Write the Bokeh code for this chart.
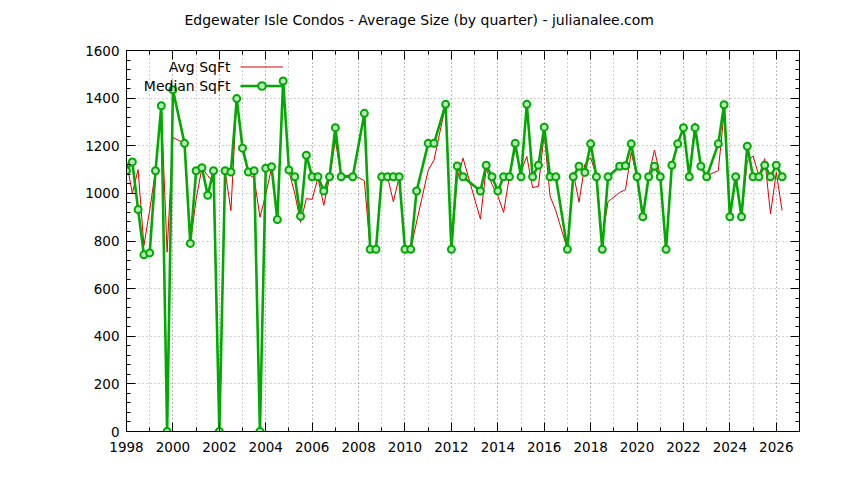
from bokeh.plotting import figure
from bokeh.models import (ColumnDataSource, Range1d, FixedTicker, LinearAxis, Label,
                          Legend, LegendItem, Grid, CustomLabelingPolicy)
from bokeh.embed import file_html
from bokeh.resources import INLINE

# ---- data (quarterly; quarters with no data are absent) ----
period = ["1998Q1","1998Q2","1998Q3","1998Q4","1999Q1","1999Q2","1999Q3","1999Q4",
          "2000Q1","2000Q3","2000Q4","2001Q1","2001Q2","2001Q3","2001Q4",
          "2002Q1","2002Q2","2002Q3","2002Q4","2003Q1","2003Q2","2003Q3","2003Q4",
          "2004Q1","2004Q2","2004Q3","2004Q4","2005Q1","2005Q2","2005Q3","2005Q4",
          "2006Q1","2006Q2","2006Q3","2006Q4","2007Q1","2007Q2","2007Q4",
          "2008Q2","2008Q3","2008Q4","2009Q1","2009Q2","2009Q3","2009Q4",
          "2010Q1","2010Q2","2010Q3","2011Q1","2011Q2","2011Q4",
          "2012Q1","2012Q2","2012Q3","2013Q2","2013Q3","2013Q4",
          "2014Q1","2014Q2","2014Q3","2014Q4","2015Q1","2015Q2","2015Q3","2015Q4",
          "2016Q1","2016Q2","2016Q3","2017Q1","2017Q2","2017Q3","2017Q4",
          "2018Q1","2018Q2","2018Q3","2018Q4","2019Q2","2019Q3","2019Q4",
          "2020Q1","2020Q2","2020Q3","2020Q4","2021Q1","2021Q2","2021Q3","2021Q4",
          "2022Q1","2022Q2","2022Q3","2022Q4","2023Q1","2023Q3","2023Q4",
          "2024Q1","2024Q2","2024Q3","2024Q4","2025Q1","2025Q2","2025Q3","2025Q4",
          "2026Q1","2026Q2"]

avg_sqft = [1135,1000,1100,780,930,1095,1360,753,
            1235,1210,790,975,1108,1075,1045,
            0,1095,928,1398,1190,1079,1066,900,
            995,1108,890,1465,1093,1000,878,978,
            975,1065,950,1065,1225,1070,1080,
            1053,765,765,1070,1070,965,1070,
            765,765,880,1097,1140,1370,
            765,1060,1148,892,1105,1037,
            990,920,1072,1187,1093,1155,1024,1030,
            1252,989,927,765,1088,963,1122,
            1150,1074,810,965,1004,1015,1172,
            1067,900,1074,1182,1074,765,1118,1210,
            1276,1070,1296,1114,1074,1095,1338,
            900,1070,900,1136,1157,1074,1146,914,
            1088,928]

median_sqft = [1095,1132,932,742,750,1095,1368,0,
               1435,1210,790,1095,1108,992,1095,
               0,1095,1090,1398,1190,1090,1095,0,
               1106,1112,890,1472,1098,1070,904,1160,
               1070,1070,1010,1070,1276,1070,1070,
               1336,765,765,1070,1070,1070,1070,
               765,765,1010,1210,1210,1374,
               765,1115,1070,1010,1118,1070,
               1010,1070,1070,1210,1070,1374,1070,1118,
               1278,1070,1070,765,1070,1114,1088,
               1208,1070,765,1070,1114,1116,1208,
               1070,902,1070,1114,1070,765,1118,1208,
               1276,1070,1276,1114,1070,1208,1372,
               902,1070,902,1198,1070,1070,1118,1070,
               1118,1070]

x_ticks = list(range(1998, 2027, 2))
x_minor = list(range(1998, 2028, 1))
y_ticks = list(range(0, 1601, 200))
y_minor = list(range(0, 1601, 40))

title_text = "Edgewater Isle Condos - Average Size (by quarter) - julianalee.com"
FONT = "DejaVu Sans"

xs = [int(p[:4]) + (int(p[5]) - 1) / 4 for p in period]
src = ColumnDataSource(dict(x=xs, avg=avg_sqft, med=median_sqft))

W, H = 836, 472
p = figure(width=W, height=H, output_backend="svg", toolbar_location=None,
           x_range=Range1d(1998, 2027), y_range=Range1d(0, 1600),
           min_border_left=126, min_border_right=35, min_border_top=48,
           min_border_bottom=41, x_axis_type=None, y_axis_type=None)
p.outline_line_color = "black"
p.outline_line_width = 1
p.background_fill_color = "white"
p.border_fill_color = "white"

p.title.text = title_text
p.title.align = "left"
p.title.offset = 58
p.title.text_font = FONT
p.title.text_font_size = "14px"
p.title.text_font_style = "normal"
p.title.text_color = "black"
p.title.standoff = 19

xt = FixedTicker(ticks=x_ticks, minor_ticks=x_minor)
yt = FixedTicker(ticks=y_ticks, minor_ticks=y_minor)

def style_axis(ax):
    ax.axis_line_color = "black"
    ax.major_tick_in = 9
    ax.major_tick_out = 0
    ax.minor_tick_in = 4
    ax.minor_tick_out = 0
    ax.major_tick_line_color = "black"
    ax.minor_tick_line_color = "black"
    ax.major_label_text_font = FONT
    ax.major_label_text_font_size = "13.5px"
    ax.major_label_text_color = "black"
    ax.major_label_standoff = 7

bx = LinearAxis(ticker=xt); style_axis(bx); p.add_layout(bx, "below")
bx.major_label_standoff = 10
ly = LinearAxis(ticker=yt); style_axis(ly); p.add_layout(ly, "left")
tx = LinearAxis(ticker=xt); style_axis(tx); p.add_layout(tx, "above")
ry = LinearAxis(ticker=yt); style_axis(ry); p.add_layout(ry, "right")
for ax in (tx, ry):
    ax.major_label_standoff = 0
    ax.major_label_policy = CustomLabelingPolicy(code="return []")

xg = Grid(dimension=0, ticker=xt, grid_line_color="#a0a0a0", grid_line_dash="1 3",
          minor_grid_line_color="#a0a0a0", minor_grid_line_dash="1 3")
yg = Grid(dimension=1, ticker=yt, grid_line_color="#a0a0a0", grid_line_dash="1 3")
p.add_layout(xg)
p.add_layout(yg)

r_avg = p.line("x", "avg", source=src, line_color="#dd0000", line_width=1)
r_med_l = p.line("x", "med", source=src, line_color="#00aa00", line_width=2.6)
r_med_c = p.scatter("x", "med", source=src, marker="circle", size=7,
                    line_color="#00aa00", line_width=2, fill_color="#b8e8b8")

legend = Legend(items=[LegendItem(label=" ", renderers=[r_avg]),
                       LegendItem(label=" ", renderers=[r_med_l, r_med_c])],
                location=(114, 336), glyph_width=43, glyph_height=19,
                label_height=19, label_width=1, spacing=0, padding=0, margin=0,
                label_standoff=0, label_text_font_size="13px",
                border_line_color=None, background_fill_alpha=0)
p.add_layout(legend, "center")

for txt, yy in (("Avg SqFt", 365), ("Median SqFt", 346)):
    p.add_layout(Label(x=104, y=yy, x_units="screen", y_units="screen", text=txt,
                       text_align="right", text_baseline="middle",
                       text_font=FONT, text_font_size="14px", text_color="black"))

open("out.html", "w").write(file_html(p, INLINE))
